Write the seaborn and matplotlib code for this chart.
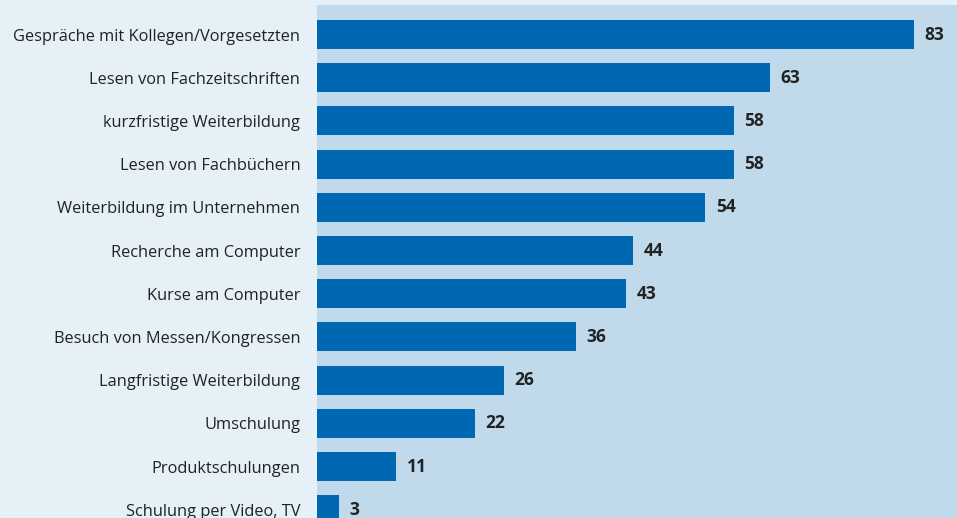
import matplotlib
matplotlib.use("Agg")
import matplotlib.pyplot as plt
import seaborn as sns
import pandas as pd

categories = [
    "Gespräche mit Kollegen/Vorgesetzten",
    "Lesen von Fachzeitschriften",
    "kurzfristige Weiterbildung",
    "Lesen von Fachbüchern",
    "Weiterbildung im Unternehmen",
    "Recherche am Computer",
    "Kurse am Computer",
    "Besuch von Messen/Kongressen",
    "Langfristige Weiterbildung",
    "Umschulung",
    "Produktschulungen",
    "Schulung per Video, TV",
]
values = [83, 63, 58, 58, 54, 44, 43, 36, 26, 22, 11, 3]

df = pd.DataFrame({"Form": categories, "Anteil": values})

sns.set_theme(style="white")
plt.rcParams["font.family"] = ["Open Sans", "DejaVu Sans"]

outer_bg = "#e5f0f7"
panel_bg = "#c0daec"
bar_color = "#0068b3"
text_color = "#222222"

fig = plt.figure(figsize=(9.57, 5.18), dpi=100)
fig.patch.set_facecolor(outer_bg)
ax = fig.add_axes([317 / 957, 0.0, 1 - 317 / 957, 1 - 5 / 518])
ax.set_facecolor(panel_bg)

sns.barplot(data=df, x="Anteil", y="Form", orient="h", color=bar_color,
            saturation=1, width=0.67, linewidth=0, edgecolor=bar_color, ax=ax)

ax.set_xlim(0, 89.0)
ax.set_ylim(11.19, -0.683)

for bars in ax.containers:
    ax.bar_label(bars, labels=[str(v) for v in values], padding=7.5,
                 fontsize=12.5, fontweight="bold", color=text_color)

ax.set_xlabel("")
ax.set_ylabel("")
ax.set_xticks([])
ax.tick_params(axis="y", length=0, pad=12, labelsize=11.8, labelcolor=text_color)
for s in ax.spines.values():
    s.set_visible(False)

fig.savefig("out.png", dpi=100, facecolor=outer_bg)
